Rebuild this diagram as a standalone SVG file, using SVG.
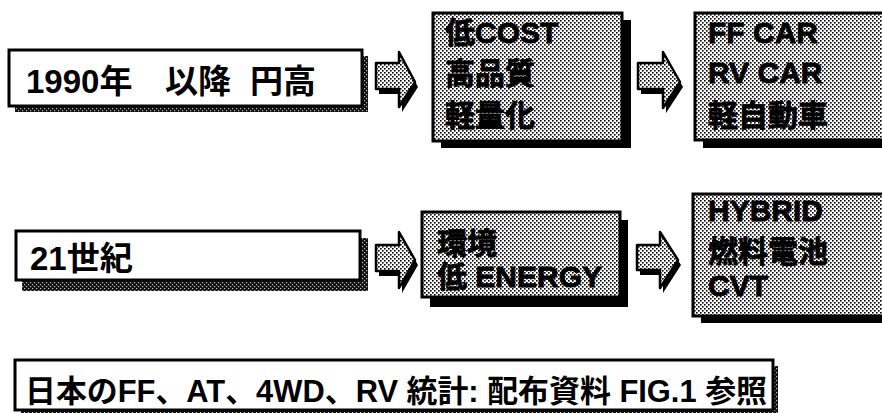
<svg xmlns="http://www.w3.org/2000/svg" width="882" height="413" viewBox="0 0 882 413">
<defs>
<pattern id="gray" width="4" height="4" patternUnits="userSpaceOnUse">
<rect width="4" height="4" fill="#ffffff"/>
<rect x="0" y="0" width="1.6" height="1.6" fill="#000"/>
<rect x="2" y="2" width="1.6" height="1.6" fill="#000"/>
</pattern>
<pattern id="dark" width="4" height="4" patternUnits="userSpaceOnUse">
<rect width="4" height="4" fill="#111"/>
<rect x="0" y="0" width="1.2" height="1.2" fill="#bbb"/>
<rect x="2" y="2" width="1.2" height="1.2" fill="#bbb"/>
</pattern>
<style>
.wbox{fill:#fff;stroke:#000;stroke-width:3}
.gbox{fill:url(#gray);stroke:#000;stroke-width:3}
.shd{fill:url(#dark)}
.shb{fill:#000}
.arr{fill:url(#gray);stroke:#000;stroke-width:2.5;stroke-linejoin:round}
.t{font-family:"Liberation Sans","Noto Sans CJK JP",sans-serif;font-size:33px;font-weight:bold;fill:#000}
.b{font-family:"Liberation Sans","Noto Sans CJK JP",sans-serif;font-size:30px;font-weight:bold;fill:#000;stroke:#000;stroke-width:0.8}
.n{font-family:"Liberation Sans","Noto Sans CJK JP",sans-serif;font-size:31px;font-weight:bold;fill:#000}
</style>
</defs>
<rect width="882" height="413" fill="#fff"/>

<g id="n-1990">
<rect class="shd" x="15" y="56" width="353" height="56"/>
<rect class="wbox" x="9" y="50" width="353" height="56"/>
<text class="t" x="26" y="93">1990年<tspan x="165">以降</tspan><tspan x="250">円高</tspan></text>
</g>

<g id="n-cost">
<rect class="shb" x="441" y="20" width="190" height="128"/>
<rect class="gbox" x="433" y="13" width="189" height="128"/>
<text class="b" x="445" y="43">低COST</text>
<text class="b" x="445" y="84">高品質</text>
<text class="b" x="445" y="126">軽量化</text>
</g>

<g id="n-car">
<rect class="shb" x="703" y="20" width="200" height="128"/>
<rect class="gbox" x="695" y="13" width="200" height="127"/>
<text class="b" x="708" y="43">FF CAR</text>
<text class="b" x="708" y="83">RV CAR</text>
<text class="b" x="708" y="126">軽自動車</text>
</g>

<g id="n-21">
<rect class="shd" x="22" y="238" width="346" height="53"/>
<rect class="wbox" x="16" y="231" width="344" height="49"/>
<text class="t" x="30" y="270">21世紀</text>
</g>

<g id="n-energy">
<rect class="shb" x="430" y="220" width="198" height="87"/>
<rect class="gbox" x="422" y="212" width="198" height="85"/>
<text class="b" x="437" y="254">環境</text>
<text class="b" x="437" y="287">低 ENERGY</text>
</g>

<g id="n-hybrid">
<rect class="shb" x="701" y="201" width="200" height="122"/>
<rect class="gbox" x="693" y="194" width="200" height="122"/>
<text class="b" x="708" y="221">HYBRID</text>
<text class="b" x="708" y="262">燃料電池</text>
<text class="b" x="708" y="296">CVT</text>
</g>

<g id="n-note">
<rect class="shd" x="21" y="366" width="757" height="47"/>
<rect class="wbox" x="15" y="360" width="758" height="50"/>
<text class="n" x="25" y="402" textLength="742" lengthAdjust="spacingAndGlyphs">日本のFF、AT、4WD、RV 統計: 配布資料  FIG.1 参照</text>
</g>

<g id="connectors">
<polygon class="shb" points="379,68 402,68 402,57 418,87 402,112 402,94 379,94"/>
<polygon class="arr" points="376,63 399,63 399,52 415,82 399,107 399,89 376,89"/>
<polygon class="shb" points="641,68 666,68 666,57 683,87 666,113 666,94 641,94"/>
<polygon class="arr" points="638,63 663,63 663,52 680,82 663,108 663,89 638,89"/>
<polygon class="shb" points="379,250 402,250 402,237 418,265 402,293 402,276 379,276"/>
<polygon class="arr" points="376,245 399,245 399,232 415,260 399,288 399,271 376,271"/>
<polygon class="shb" points="640,250 663,250 663,237 681,265 663,293 663,275 640,275"/>
<polygon class="arr" points="637,245 660,245 660,232 678,260 660,288 660,270 637,270"/>
</g>
</svg>
